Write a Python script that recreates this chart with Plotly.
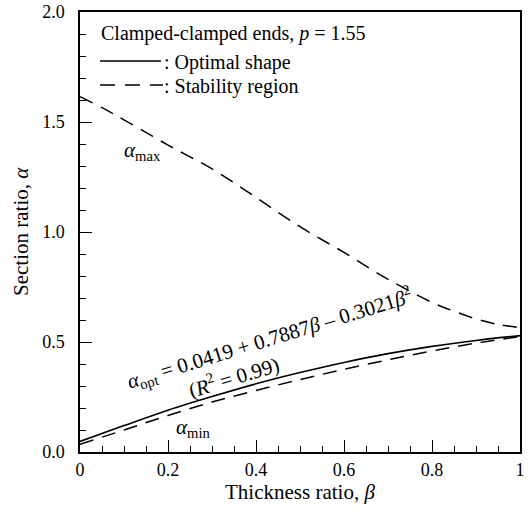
import plotly.graph_objects as go

# ---- data ----
beta_opt = [0.0, 0.1, 0.2, 0.3, 0.4, 0.5, 0.6, 0.7, 0.8, 0.9, 1.0]
alpha_opt = [0.048, 0.12, 0.19, 0.252, 0.31, 0.361, 0.407, 0.447, 0.48, 0.507, 0.529]

beta_min = [0.0, 0.1, 0.2, 0.3, 0.4, 0.5, 0.6, 0.7, 0.8, 0.9, 1.0]
alpha_min = [0.035, 0.10, 0.166, 0.227, 0.28, 0.329, 0.376, 0.419, 0.459, 0.495, 0.525]

beta_max = [0.0, 0.05, 0.1, 0.2, 0.3, 0.4, 0.5, 0.6, 0.7, 0.8, 0.85, 0.9, 0.95, 1.0]
alpha_max = [1.615, 1.565, 1.51, 1.395, 1.287, 1.157, 1.024, 0.907, 0.785, 0.68, 0.64, 0.605, 0.58, 0.565]

x_tickvals = [0, 0.2, 0.4, 0.6, 0.8, 1.0]
x_ticktext = ["0", "0.2", "0.4", "0.6", "0.8", "1"]
y_tickvals = [0.0, 0.5, 1.0, 1.5, 2.0]
y_ticktext = ["0.0", "0.5", "1.0", "1.5", "2.0"]

FONT = "Liberation Serif"
DASH = "14px,9px"

fig = go.Figure()
fig.add_trace(go.Scatter(x=beta_opt, y=alpha_opt, mode="lines", line=dict(color="black", width=1.6, shape="spline"), showlegend=False))
fig.add_trace(go.Scatter(x=beta_min, y=alpha_min, mode="lines", line=dict(color="black", width=1.5, dash=DASH, shape="spline"), showlegend=False))
fig.add_trace(go.Scatter(x=beta_max, y=alpha_max, mode="lines", line=dict(color="black", width=1.5, dash=DASH, shape="spline"), showlegend=False))

axis_common = dict(
    showgrid=False, zeroline=False, showline=True, linecolor="black", linewidth=1.5,
    mirror=True, ticks="inside", ticklen=12, tickwidth=1.2, tickcolor="black",
    tickfont=dict(family=FONT, size=18, color="black"), automargin=False,
)

fig.update_xaxes(range=[0, 1], tickvals=x_tickvals, ticktext=x_ticktext,
                 minor=dict(dtick=0.05, ticks="inside", ticklen=6, tickwidth=1.2, tickcolor="black"),
                 ticklabelstandoff=1, **axis_common)
fig.update_yaxes(range=[0, 2], tickvals=y_tickvals, ticktext=y_ticktext,
                 minor=dict(dtick=0.1, ticks="inside", ticklen=6, tickwidth=1.2, tickcolor="black"),
                 ticklabelstandoff=10, **axis_common)

def px_x(px):
    return (px - 80) / 440.0

def px_y(py):
    return (452 - py) / 440.0

annotations = [
    dict(text="Thickness ratio, <i>β</i>", xref="paper", yref="paper", x=0.5, y=px_y(492),
         showarrow=False, font=dict(family=FONT, size=21, color="black"), xanchor="center", yanchor="middle"),
    dict(text="Section ratio, <i>α</i>", xref="paper", yref="paper", x=px_x(21), y=0.5, textangle=-90,
         showarrow=False, font=dict(family=FONT, size=21, color="black"), xanchor="center", yanchor="middle"),
    dict(text="Clamped-clamped ends, <i>p</i> = 1.55", xref="paper", yref="paper", x=px_x(99), y=px_y(33),
         showarrow=False, font=dict(family=FONT, size=20, color="black"), xanchor="left", yanchor="middle"),
    dict(text=": Optimal shape", xref="paper", yref="paper", x=px_x(162), y=px_y(62),
         showarrow=False, font=dict(family=FONT, size=20, color="black"), xanchor="left", yanchor="middle"),
    dict(text=": Stability region", xref="paper", yref="paper", x=px_x(162), y=px_y(86),
         showarrow=False, font=dict(family=FONT, size=20, color="black"), xanchor="left", yanchor="middle"),
    dict(text="<i>α</i><sub>opt</sub> = 0.0419 + 0.7887<i>β</i> – 0.3021<i>β</i><sup>2</sup>",
         x=0.43, y=0.518, xref="x", yref="y", textangle=-17, showarrow=False,
         font=dict(family=FONT, size=21, color="black")),
    dict(text="(<i>R</i><sup>2</sup> = 0.99)", x=0.349, y=0.343, xref="x", yref="y", textangle=-17,
         showarrow=False, font=dict(family=FONT, size=21, color="black")),
    dict(text="<i>α</i><sub>max</sub>", x=0.143, y=1.37, xref="x", yref="y", showarrow=False,
         font=dict(family=FONT, size=21, color="black")),
    dict(text="<i>α</i><sub>min</sub>", x=0.259, y=0.108, xref="x", yref="y", showarrow=False,
         font=dict(family=FONT, size=21, color="black")),
]

shapes = [
    dict(type="line", xref="paper", yref="paper", x0=px_x(100), x1=px_x(161), y0=px_y(61), y1=px_y(61),
         line=dict(color="black", width=1.5)),
    dict(type="line", xref="paper", yref="paper", x0=px_x(100), x1=px_x(163), y0=px_y(85), y1=px_y(85),
         line=dict(color="black", width=1.5, dash="15px,10px")),
]

fig.update_layout(
    template="none",
    width=531, height=518,
    margin=dict(l=80, r=11, t=12, b=66, autoexpand=False),
    paper_bgcolor="white", plot_bgcolor="white",
    font=dict(family=FONT, color="black"),
    annotations=annotations, shapes=shapes, showlegend=False,
)

fig.write_html("out.html")
